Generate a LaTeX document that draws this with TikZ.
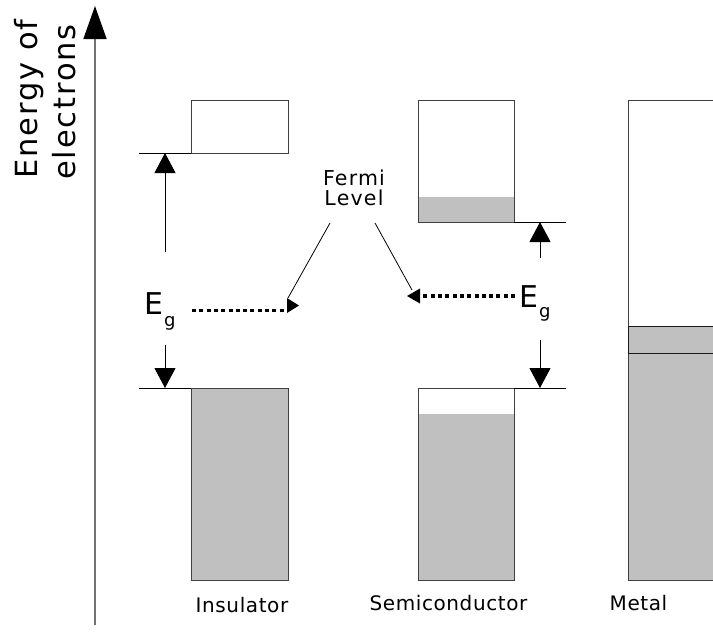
\documentclass[tikz,border=0pt]{standalone}
\usepackage{fontspec}
\setmainfont{DejaVu Sans}
\newfontfamily\axisfont[LetterSpace=6]{DejaVu Sans}
\newfontfamily\fermifont[LetterSpace=6]{DejaVu Sans}
\newfontfamily\namefont[LetterSpace=3]{DejaVu Sans}
\usetikzlibrary{arrows.meta}

\definecolor{bandgray}{HTML}{C0C0C0}
\definecolor{edgegray}{HTML}{404040}

\begin{document}
\begin{tikzpicture}[x=1pt,y=-1pt,
  band/.style={draw=edgegray, line width=1pt},
  filled/.style={band, fill=bandgray},
  level/.style={draw=black, line width=1pt},
  gaparrow/.style={draw=black, line width=1pt, -{Triangle[length=20pt,width=21pt]}},
  fermiline/.style={draw=black, line width=0.8pt},
  dotline/.style={draw=black, line width=3.2pt, dash pattern=on 4pt off 3.3pt},
  bigtxt/.style={font=\fontsize{30}{30}\selectfont, inner sep=0pt},
  subtxt/.style={font=\fontsize{18}{18}\selectfont, inner sep=0pt},
  lbl/.style={font=\namefont\fontsize{20}{20}\selectfont, inner sep=0pt, anchor=base},
  fermilbl/.style={font=\fermifont\fontsize{20.5}{20}\selectfont, inner sep=0pt, anchor=base},
  axislbl/.style={font=\axisfont\fontsize{30.5}{30}\selectfont, inner sep=0pt, anchor=base, rotate=90}
]
\useasboundingbox (0,0) rectangle (713,632);

% energy axis
\coordinate (axbot) at (95,625);
\coordinate (axtop) at (95,6);
\draw[draw=black!55, line width=1.6pt, -{Triangle[length=33pt,width=23pt,color=black]}] (axbot) -- (axtop);
\node[axislbl] (ax1) at (37,99) {Energy of};
\node[axislbl] (ax2) at (75,102) {electrons};

% ---- insulator ----
\draw[band] (191,100) rectangle (288,153);
\draw[filled] (191,388) rectangle (288,580);
\coordinate (icb) at (191,153);
\coordinate (icbl) at (139,153);
\coordinate (ivb) at (191,388);
\coordinate (ivbl) at (139,388);
\draw[level] (icbl) -- (icb);
\draw[level] (ivbl) -- (ivb);
\coordinate (iup0) at (165,252);
\coordinate (iup1) at (165,153);
\coordinate (idn0) at (165,345);
\coordinate (idn1) at (165,388);
\draw[gaparrow] (iup0) -- (iup1);
\draw[gaparrow] (idn0) -- (idn1);
\node[bigtxt, anchor=base west] (egi) at (144,314) {E};
\node[subtxt, anchor=base west] (egis) at (164,326) {g};
\coordinate (idot0) at (192,310.5);
\coordinate (idot1) at (286,310.5);
\draw[dotline] (idot0) -- (idot1);

% ---- semiconductor ----
\fill[bandgray] (418,197) rectangle (514,222);
\draw[band] (418,100) rectangle (514,222);
\fill[bandgray] (418,414) rectangle (514,580);
\draw[band] (418,388) rectangle (514,580);
\coordinate (scb) at (514,222);
\coordinate (scbr) at (566,222);
\coordinate (svb) at (514,388);
\coordinate (svbr) at (566,388);
\draw[level] (scb) -- (scbr);
\draw[level] (svb) -- (svbr);
\coordinate (sup0) at (540,258);
\coordinate (sup1) at (540,222);
\coordinate (sdn0) at (540,340);
\coordinate (sdn1) at (540,388);
\draw[gaparrow] (sup0) -- (sup1);
\draw[gaparrow] (sdn0) -- (sdn1);
\node[bigtxt, anchor=base west] (egs) at (519,307) {E};
\node[subtxt, anchor=base west] (egss) at (539,317) {g};
\coordinate (sdot0) at (515,296);
\coordinate (sdot1) at (421,296);
\draw[dotline] (sdot0) -- (sdot1);

% ---- metal ----
\fill[bandgray] (628,326) rectangle (713,580);
\draw[band] (713,100) -- (628,100) -- (628,580) -- (713,580);
\draw[draw=black!90, line width=1pt] (713,326) -- (628,326) -- (628,353) -- (713,353);

% ---- Fermi level pointers ----
\node[fermilbl] (fermi) at (354,185) {Fermi};
\node[fermilbl] (level) at (354,205) {Level};
\coordinate (fl0) at (330,223);
\coordinate (fl1) at (288,298);
\coordinate (fr0) at (375,223);
\coordinate (fr1) at (412,290);
\draw[fermiline] (fl0) -- (fl1);
\draw[fermiline] (fr0) -- (fr1);
\fill (287,298) -- (299,305.5) -- (287,313) -- cycle;
\fill (420,288.5) -- (407,296) -- (420,303.5) -- cycle;

% ---- material names ----
\node[lbl] (ins) at (242,612) {Insulator};
\node[lbl] (semi) at (448.5,610) {Semiconductor};
\node[lbl] (met) at (638.5,610) {Metal};
\end{tikzpicture}
\end{document}
